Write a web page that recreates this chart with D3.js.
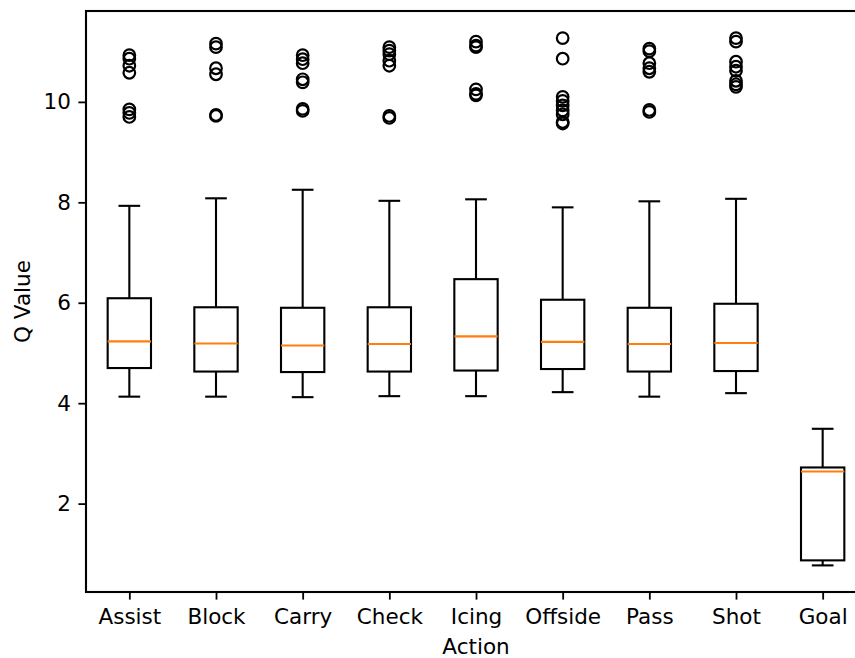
<!DOCTYPE html>
<html>
<head>
<meta charset="utf-8">
<script src="https://cdn.jsdelivr.net/npm/d3@7"></script>
<style>
  html, body { margin: 0; padding: 0; background: #fff; }
  svg { display: block; }
  text { font-family: "DejaVu Sans", sans-serif; fill: #000; }
</style>
</head>
<body>
<svg id="chart" width="855" height="658"></svg>
<script>
// Q value distribution per action type
const actions = ["Assist", "Block", "Carry", "Check", "Icing", "Offside", "Pass", "Shot", "Goal"];
const whiskerLow  = [4.13, 4.13, 4.12, 4.14, 4.14, 4.22, 4.13, 4.20, 0.77];
const q1          = [4.70, 4.63, 4.62, 4.63, 4.65, 4.68, 4.63, 4.64, 0.87];
const medians     = [5.23, 5.19, 5.15, 5.18, 5.33, 5.22, 5.18, 5.20, 2.64];
const q3          = [6.09, 5.91, 5.90, 5.91, 6.47, 6.06, 5.90, 5.98, 2.72];
const whiskerHigh = [7.93, 8.08, 8.25, 8.03, 8.06, 7.90, 8.02, 8.07, 3.49];
const outliers = [
  [10.93, 10.86, 10.72, 10.58, 9.85, 9.78, 9.70],
  [11.16, 11.09, 10.67, 10.55, 9.74, 9.72],
  [10.93, 10.85, 10.77, 10.45, 10.39, 9.86, 9.82],
  [11.09, 11.02, 10.95, 10.82, 10.72, 9.72, 9.68],
  [11.20, 11.12, 11.09, 10.25, 10.16, 10.13],
  [11.27, 10.86, 10.10, 10.02, 9.93, 9.83, 9.75, 9.60, 9.57],
  [11.06, 11.01, 10.77, 10.67, 10.60, 9.84, 9.80],
  [11.27, 11.20, 10.80, 10.70, 10.62, 10.42, 10.35, 10.30],
  []
];
const yTicks = [2, 4, 6, 8, 10];

const svg = d3.select("#chart");
const plotLeft = 86, plotRight = 866, plotTop = 11, plotBottom = 592;
const lw = 2.1;
const fontSize = 21.5;

const x = d3.scaleLinear().domain([0.5, actions.length + 0.5]).range([plotLeft, plotRight]);
const y = d3.scaleLinear().domain([0.24, 11.81]).range([plotBottom, plotTop]);
const boxW = x(1.5) - x(1.25);   // half of box width (box width 0.5)
const capW = x(1.25) - x(1.125); // half of cap width

const boxes = svg.append("g");
actions.forEach((a, i) => {
  const cx = x(i + 1);
  const g = boxes.append("g").attr("stroke", "#000").attr("stroke-width", lw).attr("fill", "none");
  // whiskers
  g.append("line").attr("x1", cx).attr("x2", cx).attr("y1", y(q1[i])).attr("y2", y(whiskerLow[i]));
  g.append("line").attr("x1", cx).attr("x2", cx).attr("y1", y(q3[i])).attr("y2", y(whiskerHigh[i]));
  // caps
  g.append("line").attr("x1", cx - capW).attr("x2", cx + capW).attr("y1", y(whiskerLow[i])).attr("y2", y(whiskerLow[i]));
  g.append("line").attr("x1", cx - capW).attr("x2", cx + capW).attr("y1", y(whiskerHigh[i])).attr("y2", y(whiskerHigh[i]));
  // box
  g.append("rect").attr("x", cx - boxW).attr("width", 2 * boxW)
    .attr("y", y(q3[i])).attr("height", y(q1[i]) - y(q3[i]));
  // median
  g.append("line").attr("stroke", "#ff7f0e")
    .attr("x1", cx - boxW).attr("x2", cx + boxW).attr("y1", y(medians[i])).attr("y2", y(medians[i]));
  // fliers
  g.selectAll("circle").data(outliers[i]).join("circle")
    .attr("cx", cx).attr("cy", d => y(d)).attr("r", 5.8).attr("stroke-width", 2.2);
});

// axes
const xAxis = d3.axisBottom(x).tickValues(d3.range(1, actions.length + 1))
  .tickFormat((d) => actions[d - 1]).tickSize(7.6).tickPadding(9).tickSizeOuter(0);
const yAxis = d3.axisLeft(y).tickValues(yTicks).tickSize(7.6).tickPadding(7.6).tickSizeOuter(0);

const gx = svg.append("g").attr("transform", `translate(0,${plotBottom})`).call(xAxis);
const gy = svg.append("g").attr("transform", `translate(${plotLeft},0)`).call(yAxis);
[gx, gy].forEach(g => {
  g.select(".domain").remove();
  g.selectAll(".tick line").attr("stroke", "#000").attr("stroke-width", 1.8);
  g.selectAll(".tick text").attr("font-size", fontSize).attr("fill", "#000")
    .style("font-family", "'DejaVu Sans', sans-serif");
});

// frame
svg.append("rect").attr("x", plotLeft).attr("y", plotTop)
  .attr("width", plotRight - plotLeft).attr("height", plotBottom - plotTop)
  .attr("fill", "none").attr("stroke", "#000").attr("stroke-width", lw);

// axis titles
svg.append("text").attr("x", (plotLeft + plotRight) / 2).attr("y", 654).attr("text-anchor", "middle")
  .attr("font-size", fontSize).text("Action");
svg.append("text").attr("transform", `translate(30,${(plotTop + plotBottom) / 2}) rotate(-90)`)
  .attr("text-anchor", "middle").attr("font-size", fontSize).text("Q Value");
</script>
</body>
</html>
